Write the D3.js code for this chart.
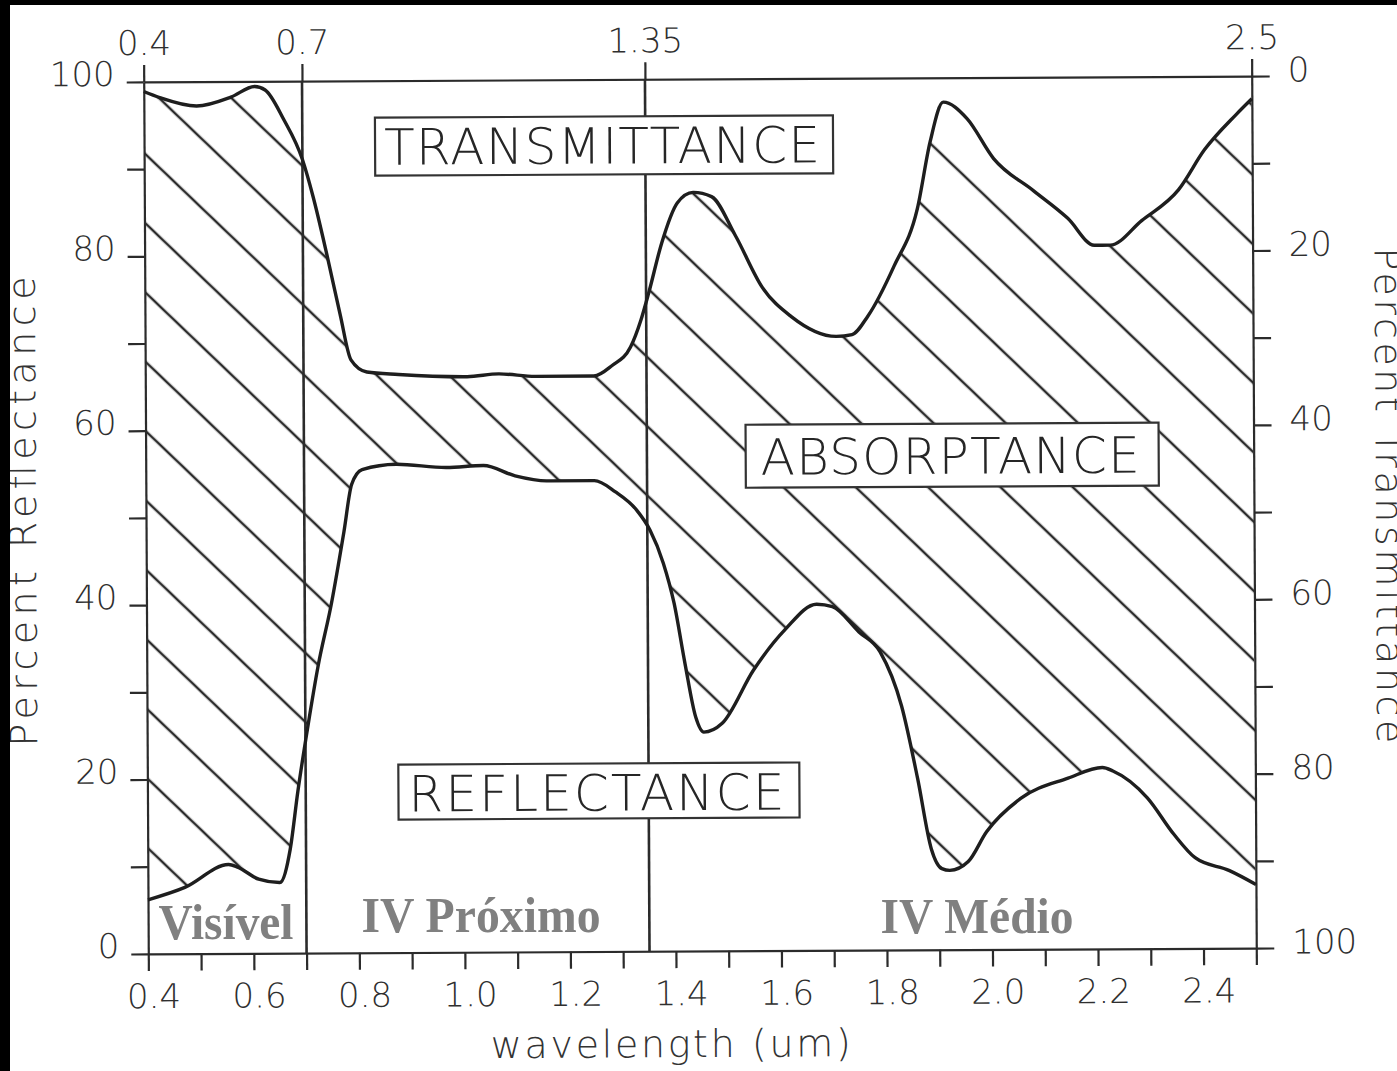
<!DOCTYPE html>
<html>
<head>
<meta charset="utf-8">
<title>Reflectance / Absorptance / Transmittance</title>
<script src="https://d3js.org/d3.v7.min.js"></script>
<style>
  body { margin: 0; background: #fff; }
  svg { display: block; }
</style>
</head>
<body>
<div id="chart"></div>
<script>
// upper curve: percent transmittance (right axis, 0 at the top)
var transWl  = [0.40, 0.43, 0.50, 0.565, 0.61, 0.63, 0.665, 0.70, 0.72, 0.745, 0.77, 0.79, 0.82, 0.88, 1.01, 1.07, 1.14, 1.25, 1.285, 1.32, 1.34, 1.355, 1.38, 1.41, 1.44, 1.475, 1.52, 1.57, 1.625, 1.71, 1.74, 1.77, 1.82, 1.865, 1.89, 1.915, 1.96, 2.01, 2.085, 2.15, 2.20, 2.23, 2.29, 2.36, 2.41, 2.47, 2.50];
var transPct = [1.1, 1.8, 2.8, 1.8, 0.6, 1.0, 4.4, 9.0, 13.3, 19.8, 26.8, 32.0, 33.4, 33.7, 34.0, 33.7, 34.0, 34.0, 32.8, 30.7, 27.6, 24.5, 18.8, 14.2, 13.0, 13.5, 18.0, 23.9, 27.3, 29.6, 29.4, 27.3, 21.6, 15.0, 7.3, 2.8, 4.7, 9.3, 13.0, 16.2, 19.3, 19.3, 16.5, 13.0, 8.4, 4.4, 2.6];

// lower curve: percent reflectance (left axis)
var reflWl  = [0.40, 0.47, 0.553, 0.57, 0.61, 0.65, 0.67, 0.685, 0.705, 0.725, 0.75, 0.775, 0.79, 0.81, 0.875, 0.97, 1.04, 1.10, 1.16, 1.25, 1.29, 1.33, 1.355, 1.38, 1.40, 1.42, 1.44, 1.455, 1.49, 1.55, 1.61, 1.67, 1.70, 1.75, 1.79, 1.83, 1.86, 1.885, 1.905, 1.92, 1.955, 1.99, 2.055, 2.145, 2.21, 2.23, 2.295, 2.345, 2.385, 2.45, 2.50];
var reflPct = [6.2, 7.6, 10.2, 9.9, 8.5, 8.1, 11.9, 18.5, 26.1, 33.0, 39.9, 48.3, 53.7, 55.4, 56.0, 55.6, 55.8, 54.6, 54.0, 54.0, 52.7, 50.6, 48.3, 44.5, 39.9, 33.0, 26.8, 25.1, 26.1, 32.2, 36.8, 39.7, 39.4, 36.5, 34.2, 28.0, 19.6, 11.6, 9.3, 9.1, 10.1, 13.5, 17.3, 19.6, 20.8, 20.4, 17.3, 13.1, 10.4, 8.9, 7.3];

var regionBounds = [0.7, 1.35];
var topTickValues = [0.4, 0.7, 1.35, 2.5];
var regionNames = ["Visível", "IV Próximo", "IV Médio"];
var areaNames = ["TRANSMITTANCE", "ABSORPTANCE", "REFLECTANCE"];

var W = 1397, H = 1071;
var plotL = 146, plotR = 1254, plotT = 79, plotB = 951;
var numFont = "'DejaVu Sans', sans-serif";
var ink = "#2b2b2b";

var svg = d3.select("#chart").append("svg")
    .attr("width", W).attr("height", H);

svg.append("rect").attr("width", W).attr("height", H).attr("fill", "#fff");

// the scan is a hair off square
var g = svg.append("g").attr("transform", "rotate(-0.3, 700, 515)");

var x = d3.scaleLinear().domain([0.4, 2.5]).range([plotL, plotR]);
var yR = d3.scaleLinear().domain([0, 100]).range([plotB, plotT]);
var yT = d3.scaleLinear().domain([0, 100]).range([plotT, plotB]);

var trans = transWl.map(function(d, i) { return {wl: d, v: transPct[i]}; });
var refl = reflWl.map(function(d, i) { return {wl: d, v: reflPct[i]}; });
var curve = d3.curveMonotoneX;

// hatch pattern for the absorptance band
var defs = svg.append("defs");
var pat = defs.append("pattern")
    .attr("id", "hatch")
    .attr("patternUnits", "userSpaceOnUse")
    .attr("width", 50).attr("height", 50)
    .attr("patternTransform", "translate(146,150) rotate(44)");
pat.append("line")
    .attr("x1", -5).attr("x2", 55).attr("y1", 0).attr("y2", 0)
    .attr("stroke", ink).attr("stroke-width", 2.3);
pat.append("line")
    .attr("x1", -5).attr("x2", 55).attr("y1", 50).attr("y2", 50)
    .attr("stroke", ink).attr("stroke-width", 2.3);

defs.append("clipPath").attr("id", "belowTrans")
  .append("path")
    .attr("d", d3.area().curve(curve)
      .x(function(d) { return x(d.wl); })
      .y0(plotB)
      .y1(function(d) { return yT(d.v); })(trans));

defs.append("clipPath").attr("id", "aboveRefl")
  .append("path")
    .attr("d", d3.area().curve(curve)
      .x(function(d) { return x(d.wl); })
      .y0(plotT)
      .y1(function(d) { return yR(d.v); })(refl));

g.append("g").attr("clip-path", "url(#belowTrans)")
  .append("g").attr("clip-path", "url(#aboveRefl)")
  .append("rect")
    .attr("x", plotL).attr("y", plotT)
    .attr("width", plotR - plotL).attr("height", plotB - plotT)
    .attr("fill", "url(#hatch)");

// axes
function styleAxis(sel) {
  sel.select(".domain").attr("stroke", ink).attr("stroke-width", 2.2);
  sel.selectAll(".tick line").attr("stroke", ink).attr("stroke-width", 2.2);
  sel.selectAll(".tick text")
    .attr("fill", "#2f2f2f")
    .attr("font-family", numFont)
    .attr("font-weight", 200)
    .attr("font-size", 34);
}

var tenths = d3.range(4, 26).map(function(d) { return d / 10; });
var fmt1 = d3.format(".1f");

g.append("g")
    .attr("transform", "translate(0," + plotB + ")")
    .call(d3.axisBottom(x).tickValues(tenths).tickSize(17).tickPadding(13).tickSizeOuter(0)
      .tickFormat(function(d) {
        var k = Math.round(d * 10);
        return (k % 2 === 0 && k < 25) ? fmt1(d) : "";
      }))
    .call(styleAxis)
    .selectAll(".tick text").attr("dx", 5);

g.append("g")
    .attr("transform", "translate(0," + plotT + ")")
    .call(d3.axisTop(x).tickValues(topTickValues).tickSize(17).tickPadding(10).tickSizeOuter(0)
      .tickFormat(function(d) { return String(d); }))
    .call(styleAxis);

var pctTicks = d3.range(0, 101, 10);
g.append("g")
    .attr("transform", "translate(" + plotL + ",0)")
    .call(d3.axisLeft(yR).tickValues(pctTicks).tickSize(17).tickPadding(12).tickSizeOuter(0)
      .tickFormat(function(d) { return d % 20 === 0 ? d : ""; }))
    .call(styleAxis)
    .selectAll(".tick text").attr("dy", "0.1em");

g.append("g")
    .attr("transform", "translate(" + plotR + ",0)")
    .call(d3.axisRight(yT).tickValues(pctTicks).tickSize(18).tickPadding(18).tickSizeOuter(0)
      .tickFormat(function(d) { return d % 20 === 0 ? d : ""; }))
    .call(styleAxis)
    .selectAll(".tick text").attr("dy", "0.15em");

// region boundaries
g.selectAll(".bound")
  .data(regionBounds)
  .enter().append("line")
    .attr("x1", function(d) { return x(d); })
    .attr("x2", function(d) { return x(d); })
    .attr("y1", plotT)
    .attr("y2", plotB)
    .attr("stroke", ink).attr("stroke-width", 2.6);

// curves
g.append("path")
    .datum(trans)
    .attr("fill", "none").attr("stroke", "#1e1e1e").attr("stroke-width", 3.4)
    .attr("d", d3.line().curve(curve)
      .x(function(d) { return x(d.wl); })
      .y(function(d) { return yT(d.v); }));

g.append("path")
    .datum(refl)
    .attr("fill", "none").attr("stroke", "#1e1e1e").attr("stroke-width", 3.4)
    .attr("d", d3.line().curve(curve)
      .x(function(d) { return x(d.wl); })
      .y(function(d) { return yR(d.v); }));

// boxed labels
var boxes = [
  {x0: 377, x1: 835, y0: 116, y1: 174, tx: 386, len: 436, base: 163},
  {x0: 746, x1: 1159, y0: 425, y1: 488, tx: 761, len: 379, base: 475},
  {x0: 397, x1: 798, y0: 763, y1: 818, tx: 407, len: 376, base: 810}
];
boxes.forEach(function(b, i) {
  g.append("rect")
    .attr("x", b.x0).attr("y", b.y0)
    .attr("width", b.x1 - b.x0).attr("height", b.y1 - b.y0)
    .attr("fill", "#fff").attr("stroke", "#333").attr("stroke-width", 2.2);
  g.append("text")
    .attr("x", b.tx).attr("y", b.base)
    .attr("textLength", b.len).attr("lengthAdjust", "spacing")
    .attr("font-family", numFont).attr("font-weight", 200)
    .attr("font-size", 50).attr("fill", "#262626")
    .text(areaNames[i]);
});

// axis titles
g.append("text")
    .attr("transform", "translate(36,508) rotate(-90)")
    .attr("text-anchor", "middle")
    .attr("textLength", 470).attr("lengthAdjust", "spacing")
    .attr("font-family", numFont).attr("font-weight", 200)
    .attr("font-size", 38).attr("fill", "#333")
    .text("Percent Reflectance");

g.append("text")
    .attr("transform", "translate(1376,499) rotate(90)")
    .attr("text-anchor", "middle")
    .attr("textLength", 496).attr("lengthAdjust", "spacing")
    .attr("font-family", numFont).attr("font-weight", 200)
    .attr("font-size", 38).attr("fill", "#333")
    .text("Percent Transmittance");

g.append("text")
    .attr("x", 668).attr("y", 1057)
    .attr("text-anchor", "middle")
    .attr("textLength", 360).attr("lengthAdjust", "spacing")
    .attr("font-family", numFont).attr("font-weight", 200)
    .attr("font-size", 38).attr("fill", "#333")
    .text("wavelength (um)");

// spectral region names
var regionLabel = [
  {cx: 226, w: 135, base: 939},
  {cx: 481, w: 239, base: 932},
  {cx: 977, w: 193, base: 933}
];
regionLabel.forEach(function(r, i) {
  svg.append("text")
    .attr("x", r.cx - r.w / 2).attr("y", r.base)
    .attr("textLength", r.w).attr("lengthAdjust", "spacingAndGlyphs")
    .attr("font-family", "'Liberation Serif', serif")
    .attr("font-weight", "bold")
    .attr("font-size", 50).attr("fill", "#808080")
    .text(regionNames[i]);
});

// dark scan edges
svg.append("rect").attr("x", 0).attr("y", 0).attr("width", W).attr("height", 5).attr("fill", "#000");
svg.append("rect").attr("x", 0).attr("y", 0).attr("width", 10).attr("height", H).attr("fill", "#000");
</script>
</body>
</html>
